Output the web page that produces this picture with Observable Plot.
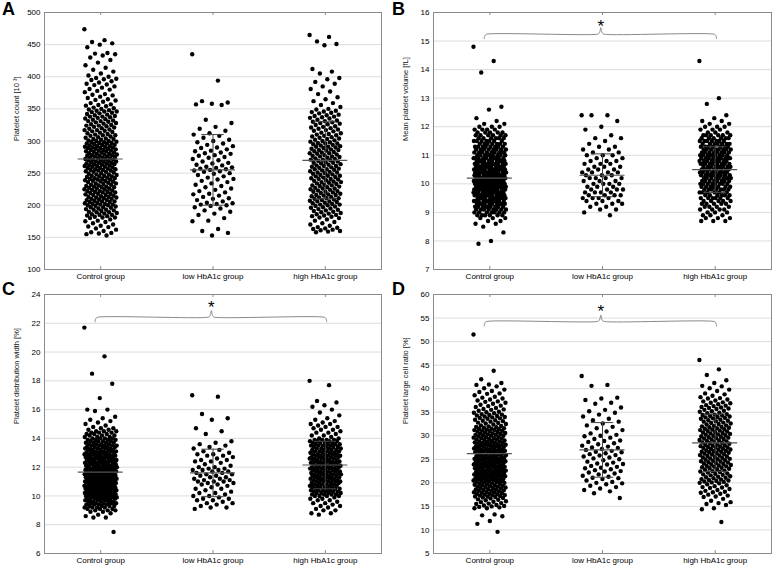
<!DOCTYPE html>
<html>
<head>
<meta charset="utf-8">
<script src="https://cdn.jsdelivr.net/npm/d3@7"></script>
<script src="https://cdn.jsdelivr.net/npm/@observablehq/plot@0.6"></script>
<style>
  html, body { margin: 0; padding: 0; background: #fff; }
  #wrap { position: relative; width: 778px; height: 568px; overflow: hidden; font-family: 'Liberation Sans', Arial, sans-serif; }
  .panel { position: absolute; width: 389px; height: 284px; }
  .letter { position: absolute; font: bold 18px/18px 'Liberation Sans', Arial, sans-serif; color: #000; }
</style>
</head>
<body>
<div id="wrap">
  <div class="panel" id="pA" style="left:0;top:0"></div>
  <div class="panel" id="pB" style="left:389px;top:0"></div>
  <div class="panel" id="pC" style="left:0;top:284px"></div>
  <div class="panel" id="pD" style="left:389px;top:284px"></div>
  <div class="letter" style="left:2px;top:0">A</div>
  <div class="letter" style="left:392px;top:0">B</div>
  <div class="letter" style="left:2px;top:280px">C</div>
  <div class="letter" style="left:392px;top:280px">D</div>
</div>
<script>
const groups = ["Control group", "low HbA1c group", "high HbA1c group"];

// ---------- Panel A: Platelet count [10^3] ----------
const A_ticks = [100,150,200,250,300,350,400,450,500];
const A_control = [474,457,454,452,450,
446,437,436,435,433,430,426,422,418,414,411,408,405,402,400,
398,397,396,395,393,391,389,388,387,385,383,381,380,378,376,373,372,371,369,367,365,364,363,361,359,357,356,355,354,352,351,350,
349,348,347,346,346,345,344,343,342,341,340,339,338,338,337,336,335,334,333,332,331,331,330,329,328,327,326,325,324,324,323,322,321,320,319,318,317,317,316,315,314,313,312,311,310,309,309,308,307,306,305,304,303,303,302,301,300,300,
299,298,298,297,297,296,296,295,294,294,293,292,292,291,291,290,290,289,289,288,288,287,286,286,285,285,284,284,283,282,282,281,280,280,279,279,278,278,277,277,276,276,275,274,274,273,273,272,272,271,271,270,270,269,268,268,267,267,266,266,265,265,264,264,263,262,262,261,261,260,260,259,258,258,257,256,256,255,255,254,254,253,252,252,251,250,
249,248,248,247,246,246,245,245,244,243,242,242,241,241,240,240,239,238,238,237,237,236,235,234,234,233,232,232,231,230,229,229,228,228,227,226,226,225,225,224,223,222,222,221,221,220,220,219,218,218,217,216,216,215,214,213,213,212,212,211,210,210,209,208,208,207,206,206,205,205,204,203,202,202,201,201,200,200,
199,198,197,197,196,195,194,193,193,192,191,190,189,189,188,187,186,185,185,184,183,182,181,181,180,178,176,175,174,172,170,168,167,166,164,162,160,158,157,156,155,153];
const A_low = [435,394,362,360,358,357,356,333,328,322,319,316,312,310,308,305,302,300,298,296,294,292,290,289,287,285,284,282,281,280,278,277,275,274,272,270,268,266,265,263,262,260,259,258,257,256,255,254,253,252,250,249,247,245,243,241,240,238,236,234,232,230,228,226,224,222,220,218,217,215,213,211,210,208,206,204,203,202,201,200,199,197,195,192,190,187,185,180,176,175,163,160,157,153];
const A_high = [465,462,455,451,449,412,408,405,398,396,392,389,385,381,377,373,368,365,362,359,356,353,350,
349,347,346,345,344,343,341,340,339,338,337,336,335,333,332,331,330,329,328,327,326,325,323,322,321,320,319,318,317,316,315,313,312,311,310,309,308,307,306,305,304,303,302,301,300,
299,298,297,296,296,295,294,293,292,291,291,290,289,288,287,286,286,285,284,283,282,281,281,280,279,278,277,276,276,275,274,273,272,271,271,270,269,268,267,266,266,265,264,263,262,261,261,260,259,258,257,256,256,255,254,253,252,251,251,250,
249,248,247,246,246,245,244,243,242,241,241,240,239,238,237,236,236,235,234,233,232,231,231,230,229,228,227,226,226,225,224,223,222,221,221,220,219,218,217,216,216,215,214,213,212,211,211,210,209,208,207,206,206,205,204,203,202,201,201,200,
199,198,197,196,195,194,193,192,191,190,189,188,187,186,185,184,183,182,181,180,178,176,174,172,170,168,166,165,164,163,162,161,160,159,158];
const A_mean = [272, 255, 270];
const A_sd = [null, 55, 60];   // control-group SD bar is not visible in the figure

// ---------- Panel B: Mean platelet volume [fL] ----------
const B_ticks = [7,8,9,10,11,12,13,14,15,16];
const B_control = [14.8,14.3,13.9,12.7,12.6,12.3,12.2,12.1,12.1,12.0,12.0,12.0,11.9,11.9,11.9,11.9,
11.8,11.8,11.8,11.8,11.8,
11.7,11.7,11.7,11.7,11.7,11.7,
11.6,11.6,11.6,11.6,11.6,11.6,
11.5,11.5,11.5,11.5,11.5,11.5,11.5,
11.4,11.4,11.4,11.4,11.4,11.4,11.4,
11.3,11.3,11.3,11.3,11.3,11.3,11.3,11.3,
11.2,11.2,11.2,11.2,11.2,11.2,11.2,11.2,
11.1,11.1,11.1,11.1,11.1,11.1,11.1,11.1,11.1,
11.0,11.0,11.0,11.0,11.0,11.0,11.0,11.0,11.0,
10.9,10.9,10.9,10.9,10.9,10.9,10.9,10.9,10.9,10.9,
10.8,10.8,10.8,10.8,10.8,10.8,10.8,10.8,10.8,10.8,
10.7,10.7,10.7,10.7,10.7,10.7,10.7,10.7,10.7,10.7,10.7,
10.6,10.6,10.6,10.6,10.6,10.6,10.6,10.6,10.6,10.6,10.6,
10.5,10.5,10.5,10.5,10.5,10.5,10.5,10.5,10.5,10.5,10.5,10.5,
10.4,10.4,10.4,10.4,10.4,10.4,10.4,10.4,10.4,10.4,10.4,10.4,
10.3,10.3,10.3,10.3,10.3,10.3,10.3,10.3,10.3,10.3,10.3,10.3,
10.2,10.2,10.2,10.2,10.2,10.2,10.2,10.2,10.2,10.2,10.2,10.2,10.2,
10.1,10.1,10.1,10.1,10.1,10.1,10.1,10.1,10.1,10.1,10.1,10.1,10.1,
10.0,10.0,10.0,10.0,10.0,10.0,10.0,10.0,10.0,10.0,10.0,10.0,10.0,
9.9,9.9,9.9,9.9,9.9,9.9,9.9,9.9,9.9,9.9,9.9,9.9,9.9,
9.8,9.8,9.8,9.8,9.8,9.8,9.8,9.8,9.8,9.8,9.8,9.8,
9.7,9.7,9.7,9.7,9.7,9.7,9.7,9.7,9.7,9.7,9.7,9.7,
9.6,9.6,9.6,9.6,9.6,9.6,9.6,9.6,9.6,9.6,9.6,9.6,
9.5,9.5,9.5,9.5,9.5,9.5,9.5,9.5,9.5,9.5,9.5,
9.4,9.4,9.4,9.4,9.4,9.4,9.4,9.4,9.4,9.4,9.4,
9.3,9.3,9.3,9.3,9.3,9.3,9.3,9.3,9.3,9.3,
9.2,9.2,9.2,9.2,9.2,9.2,9.2,9.2,9.2,
9.1,9.1,9.1,9.1,9.1,9.1,9.1,9.1,
9.0,9.0,9.0,9.0,9.0,9.0,9.0,
8.9,8.9,8.9,8.9,8.9,8.9,
8.8,8.8,8.8,8.7,8.7,8.6,8.6,8.5,8.3,8.0,7.9];
const B_low = [12.4,12.4,12.4,12.2,12.0,11.9,11.7,11.6,11.6,11.5,11.4,11.3,11.3,11.2,11.2,11.1,11.1,11.0,11.0,11.0,10.9,10.9,10.8,10.8,10.8,10.7,10.7,10.7,10.6,10.6,10.6,10.5,10.5,10.5,10.4,10.4,10.4,10.4,10.3,10.3,10.3,10.2,10.2,10.2,10.2,10.1,10.1,10.1,10.0,10.0,10.0,10.0,9.9,9.9,9.9,9.8,9.8,9.8,9.8,9.7,9.7,9.7,9.7,9.6,9.6,9.6,9.6,9.5,9.5,9.5,9.5,9.4,9.4,9.4,9.3,9.3,9.3,9.2,9.2,9.1,9.1,9.0,8.9];
const B_high = [14.3,13.0,12.8,12.4,12.3,12.2,12.2,12.1,12.1,12.0,12.0,12.0,11.9,11.9,11.9,11.8,11.8,11.8,
11.7,11.7,11.7,11.7,11.7,11.7,
11.6,11.6,11.6,11.6,11.6,11.6,
11.5,11.5,11.5,11.5,11.5,11.5,11.5,
11.4,11.4,11.4,11.4,11.4,11.4,11.4,
11.3,11.3,11.3,11.3,11.3,11.3,11.3,
11.2,11.2,11.2,11.2,11.2,11.2,11.2,11.2,
11.1,11.1,11.1,11.1,11.1,11.1,11.1,11.1,
11.0,11.0,11.0,11.0,11.0,11.0,11.0,11.0,11.0,
10.9,10.9,10.9,10.9,10.9,10.9,10.9,10.9,10.9,
10.8,10.8,10.8,10.8,10.8,10.8,10.8,10.8,10.8,
10.7,10.7,10.7,10.7,10.7,10.7,10.7,10.7,10.7,
10.6,10.6,10.6,10.6,10.6,10.6,10.6,10.6,10.6,
10.5,10.5,10.5,10.5,10.5,10.5,10.5,10.5,10.5,
10.4,10.4,10.4,10.4,10.4,10.4,10.4,10.4,10.4,
10.3,10.3,10.3,10.3,10.3,10.3,10.3,10.3,10.3,
10.2,10.2,10.2,10.2,10.2,10.2,10.2,10.2,10.2,
10.1,10.1,10.1,10.1,10.1,10.1,10.1,10.1,
10.0,10.0,10.0,10.0,10.0,10.0,10.0,10.0,
9.9,9.9,9.9,9.9,9.9,9.9,9.9,
9.8,9.8,9.8,9.8,9.8,9.8,9.8,
9.7,9.7,9.7,9.7,9.7,9.7,
9.6,9.6,9.6,9.6,9.6,9.6,
9.5,9.5,9.5,9.5,9.5,9.5,
9.4,9.4,9.4,9.4,9.4,
9.3,9.3,9.3,9.3,9.3,
9.2,9.2,9.2,9.2,
9.1,9.1,9.1,9.1,
9.0,9.0,9.0,8.9,8.9,8.9,8.8,8.8,8.8,8.7,8.7,8.7];
const B_mean = [10.2, 10.3, 10.5];
const B_sd = [null, 0.75, 0.8];

// ---------- Panel C: Platelet distribution width [%] ----------
const C_ticks = [6,8,10,12,14,16,18,20,22,24];
const C_control = [21.7,19.7,18.5,17.8,16.8,16.0,16.0,15.9,15.5,15.4,15.3,15.2,15.1,15.0,14.9,14.8,
14.7,14.7,14.6,14.6,14.5,14.5,14.5,14.4,14.4,14.4,14.3,14.3,14.3,14.2,14.2,14.2,14.1,14.1,14.1,14.0,14.0,14.0,14.0,
13.9,13.9,13.9,13.9,13.8,13.8,13.8,13.8,13.7,13.7,13.7,13.7,13.6,13.6,13.6,13.6,
13.5,13.5,13.5,13.5,13.5,13.4,13.4,13.4,13.4,13.4,13.3,13.3,13.3,13.3,13.3,13.2,13.2,13.2,13.2,13.2,13.1,13.1,13.1,13.1,13.1,13.0,13.0,13.0,13.0,13.0,13.0,
12.9,12.9,12.9,12.9,12.9,12.9,12.8,12.8,12.8,12.8,12.8,12.8,12.7,12.7,12.7,12.7,12.7,12.7,12.6,12.6,12.6,12.6,12.6,12.6,12.5,12.5,12.5,12.5,12.5,12.5,
12.4,12.4,12.4,12.4,12.4,12.4,12.3,12.3,12.3,12.3,12.3,12.3,12.2,12.2,12.2,12.2,12.2,12.2,12.1,12.1,12.1,12.1,12.1,12.1,12.0,12.0,12.0,12.0,12.0,12.0,
11.9,11.9,11.9,11.9,11.9,11.9,11.9,11.8,11.8,11.8,11.8,11.8,11.8,11.8,11.7,11.7,11.7,11.7,11.7,11.7,11.7,11.6,11.6,11.6,11.6,11.6,11.6,11.6,11.5,11.5,11.5,11.5,11.5,11.5,11.5,
11.4,11.4,11.4,11.4,11.4,11.4,11.4,11.3,11.3,11.3,11.3,11.3,11.3,11.3,11.2,11.2,11.2,11.2,11.2,11.2,11.2,11.1,11.1,11.1,11.1,11.1,11.1,11.1,11.0,11.0,11.0,11.0,11.0,11.0,11.0,
10.9,10.9,10.9,10.9,10.9,10.9,10.9,10.8,10.8,10.8,10.8,10.8,10.8,10.8,10.7,10.7,10.7,10.7,10.7,10.7,10.7,10.6,10.6,10.6,10.6,10.6,10.6,10.6,10.5,10.5,10.5,10.5,10.5,10.5,10.5,
10.4,10.4,10.4,10.4,10.4,10.4,10.4,10.3,10.3,10.3,10.3,10.3,10.3,10.3,10.2,10.2,10.2,10.2,10.2,10.2,10.2,10.1,10.1,10.1,10.1,10.1,10.1,10.1,10.0,10.0,10.0,10.0,10.0,10.0,10.0,
9.9,9.9,9.9,9.9,9.9,9.9,9.8,9.8,9.8,9.8,9.8,9.8,9.7,9.7,9.7,9.7,9.7,9.6,9.6,9.6,9.6,9.6,9.5,9.5,9.5,9.5,9.5,
9.4,9.4,9.4,9.4,9.3,9.3,9.3,9.3,9.2,9.2,9.2,9.2,9.1,9.1,9.1,9.0,9.0,9.0,
8.9,8.9,8.8,8.7,8.6,8.5,8.5,7.5];
const C_low = [17.0,16.9,15.7,15.4,15.3,14.7,14.5,14.3,13.8,13.7,13.6,13.5,13.4,13.3,13.2,13.1,13.0,12.9,12.9,12.8,12.8,12.7,12.6,12.5,12.5,12.4,12.4,12.3,12.2,12.1,12.0,12.0,11.9,11.9,11.8,11.8,11.8,11.7,11.7,11.6,11.6,11.5,11.5,11.4,11.4,11.3,11.3,11.2,11.2,11.1,11.1,11.0,11.0,11.0,10.9,10.9,10.8,10.8,10.7,10.6,10.5,10.5,10.4,10.3,10.2,10.2,10.1,10.0,10.0,9.9,9.8,9.8,9.7,9.7,9.6,9.5,9.5,9.4,9.3,9.2,9.2,9.1];
const C_high = [18.0,17.7,16.6,16.5,16.3,16.2,16.0,15.8,15.6,15.4,15.3,15.2,15.1,15.0,15.0,14.9,14.8,14.8,14.7,14.6,14.6,14.5,14.4,14.4,14.3,14.2,14.2,14.1,14.0,14.0,
13.9,13.9,13.9,13.9,13.8,13.8,13.8,13.8,13.7,13.7,13.7,13.7,13.6,13.6,13.6,13.6,13.5,13.5,13.5,13.5,
13.4,13.4,13.4,13.4,13.3,13.3,13.3,13.3,13.2,13.2,13.2,13.2,13.1,13.1,13.1,13.1,13.0,13.0,13.0,13.0,
12.9,12.9,12.9,12.9,12.9,12.8,12.8,12.8,12.8,12.8,12.7,12.7,12.7,12.7,12.7,12.6,12.6,12.6,12.6,12.6,12.5,12.5,12.5,12.5,12.5,
12.4,12.4,12.4,12.4,12.4,12.3,12.3,12.3,12.3,12.3,12.2,12.2,12.2,12.2,12.2,12.1,12.1,12.1,12.1,12.1,12.0,12.0,12.0,12.0,12.0,
11.9,11.9,11.9,11.9,11.9,11.8,11.8,11.8,11.8,11.8,11.7,11.7,11.7,11.7,11.7,11.6,11.6,11.6,11.6,11.6,11.5,11.5,11.5,11.5,11.5,
11.4,11.4,11.4,11.4,11.4,11.3,11.3,11.3,11.3,11.3,11.2,11.2,11.2,11.2,11.2,11.1,11.1,11.1,11.1,11.1,11.0,11.0,11.0,11.0,11.0,
10.9,10.9,10.9,10.9,10.8,10.8,10.8,10.8,10.7,10.7,10.7,10.7,10.6,10.6,10.6,10.6,10.5,10.5,10.5,10.5,
10.4,10.4,10.4,10.4,10.3,10.3,10.3,10.3,10.2,10.2,10.2,10.2,10.1,10.1,10.1,10.1,10.0,10.0,10.0,10.0,
9.9,9.8,9.8,9.7,9.7,9.6,9.5,9.5,9.4,9.3,9.3,9.2,9.1,9.0,9.0,8.8,8.8,8.7];
const C_mean = [11.65, 11.6, 12.15];
const C_sd = [null, 1.65, 1.65];

// ---------- Panel D: Platelet large cell ratio [%] ----------
const D_ticks = [5,10,15,20,25,30,35,40,45,50,55,60];
const D_control = [51.5,43.8,42.0,41.2,40.9,40.8,40.5,40.1,39.8,39.5,39.3,39.0,38.9,38.6,38.3,38.1,
37.9,37.7,37.5,37.3,37.2,37.0,36.8,36.6,36.4,36.3,36.1,35.9,35.7,35.6,35.5,35.3,35.1,35.0,
34.9,34.8,34.6,34.5,34.4,34.3,34.2,34.1,34.0,33.9,33.8,33.7,33.6,33.4,33.3,33.2,33.1,33.0,32.8,32.7,32.6,32.5,32.4,32.2,32.1,32.0,
31.9,31.8,31.7,31.6,31.5,31.5,31.4,31.3,31.2,31.2,31.1,31.0,31.0,30.9,30.8,30.7,30.6,30.5,30.5,30.4,30.3,30.2,30.2,30.1,30.0,30.0,29.9,29.8,29.7,29.6,29.5,29.5,29.4,29.3,29.2,29.2,29.1,29.0,
28.9,28.8,28.8,28.7,28.6,28.6,28.5,28.5,28.4,28.3,28.2,28.2,28.1,28.0,28.0,27.9,27.9,27.8,27.8,27.7,27.6,27.6,27.5,27.4,27.3,27.3,27.2,27.1,27.1,27.0,27.0,26.9,26.9,26.8,26.7,26.7,26.6,26.5,26.5,26.4,26.4,26.3,26.2,26.1,26.1,26.0,
25.9,25.8,25.8,25.7,25.6,25.6,25.5,25.5,25.4,25.4,25.3,25.2,25.2,25.1,25.0,25.0,24.9,24.9,24.8,24.8,24.7,24.6,24.6,24.5,24.5,24.4,24.4,24.3,24.2,24.2,24.1,24.0,24.0,23.9,23.9,23.8,23.8,23.7,23.6,23.6,23.5,23.5,23.4,23.4,23.3,23.2,23.2,23.1,23.0,23.0,
22.9,22.8,22.8,22.7,22.6,22.6,22.5,22.5,22.4,22.4,22.3,22.2,22.2,22.1,22.0,22.0,21.9,21.9,21.8,21.8,21.7,21.6,21.6,21.5,21.5,21.4,21.4,21.3,21.2,21.2,21.1,21.0,21.0,20.9,20.8,20.8,20.7,20.6,20.6,20.5,20.5,20.4,20.4,20.3,20.2,20.2,20.1,20.0,
19.9,19.8,19.8,19.7,19.6,19.5,19.5,19.4,19.3,19.2,19.2,19.1,19.0,18.9,18.9,18.8,18.7,18.6,18.6,18.5,18.4,18.3,18.3,18.2,18.1,18.0,18.0,17.9,17.8,17.7,17.7,17.6,17.5,17.4,17.4,17.3,17.2,17.1,17.1,17.0,
16.9,16.8,16.7,16.5,16.4,16.3,16.1,16.0,15.9,15.7,15.6,15.5,15.3,15.2,15.1,15.0,14.9,14.8,14.6,14.6,
13.3,13.1,12.9,11.9,11.3,9.6];
const D_low = [42.7,40.8,40.6,38.1,37.9,37.6,37.0,36.8,36.0,35.5,35.2,34.9,34.5,34.1,33.6,33.3,33.0,32.6,32.2,31.9,31.6,31.2,30.9,30.5,30.2,30.0,29.9,29.6,29.3,29.0,28.9,28.7,28.4,28.2,27.9,27.7,27.5,27.4,27.2,27.0,26.8,26.6,26.5,26.3,26.1,25.9,25.8,25.6,25.4,25.2,25.0,24.8,24.5,24.3,24.1,24.0,23.9,23.6,23.4,23.2,23.1,22.9,22.7,22.5,22.4,22.2,22.0,21.8,21.5,21.3,21.1,21.0,20.8,20.5,20.2,20.0,19.9,19.7,19.4,19.1,18.8,18.5,18.2,17.8,16.8];
const D_high = [46.1,44.1,42.9,41.8,41.2,40.6,40.5,40.1,39.8,39.5,39.0,38.8,38.5,38.2,38.0,
37.9,37.7,37.5,37.3,37.1,37.0,36.9,36.7,36.5,36.4,36.3,36.1,36.0,35.9,35.8,35.7,35.5,35.3,35.2,35.1,
34.9,34.8,34.6,34.5,34.4,34.3,34.2,34.1,34.0,33.9,33.8,33.7,33.6,33.4,33.3,33.2,33.1,33.0,32.8,32.7,32.6,32.5,32.4,32.2,32.1,32.0,
31.9,31.8,31.7,31.6,31.5,31.4,31.3,31.2,31.1,31.0,30.9,30.8,30.7,30.6,30.5,30.4,30.3,30.2,30.1,30.0,29.9,29.8,29.7,29.6,29.5,29.4,29.3,29.2,29.1,29.0,
28.9,28.8,28.7,28.6,28.5,28.4,28.3,28.2,28.1,28.0,27.9,27.8,27.7,27.6,27.5,27.5,27.4,27.3,27.2,27.1,27.0,26.9,26.8,26.7,26.6,26.6,26.5,26.4,26.3,26.2,26.1,26.0,
25.9,25.8,25.7,25.6,25.5,25.4,25.3,25.2,25.1,25.0,24.9,24.8,24.7,24.6,24.5,24.4,24.3,24.2,24.1,24.0,23.9,23.8,23.7,23.6,23.5,23.4,23.3,23.2,23.1,23.0,
22.9,22.8,22.6,22.5,22.4,22.3,22.2,22.0,21.9,21.8,21.7,21.6,21.4,21.3,21.2,21.1,21.0,20.8,20.7,20.6,20.5,20.4,20.3,20.2,20.1,20.0,
19.9,19.7,19.5,19.3,19.1,19.0,18.9,18.7,18.5,18.3,18.1,18.0,17.9,17.7,17.5,17.3,17.1,17.0,
16.6,16.2,15.9,15.7,15.5,15.3,14.6,14.4,11.7];
const D_mean = [26.2, 27.0, 28.5];
const D_sd = [null, 5.8, 6.1];

// Significance annotations (value levels on each panel's y scale)
const braceLevel = { B: 15.24, C: 22.42, D: 54.27 };
const starLevel  = { B: 15.31, C: 22.71, D: 55.12 };

// ---------- drawing ----------
const FONT = "'Liberation Sans', Arial, Helvetica, sans-serif";
const jitterHalfWidth = [0.145, 0.185, 0.14];
const golden = 0.6180339887498949;

function panel(el, cfg) {
  const { lo, hi, ticks, title, series, mean, sd, brace, star, top, left } = cfg;
  const W = 389, H = 284;
  const mT = top ? 12 : 10, mB = 15, mL = 44, mR = left ? 8 : 7;
  const k = (hi - lo) / (H - mT - mB); // data units per pixel
  const pts = [];
  series.forEach((arr, g) => arr.forEach((v, i) => {
    const u = ((i * golden) % 1) * 2 - 1;
    pts.push({ g, v, x: g + u * jitterHalfWidth[g] });
  }));
  const stats = [0, 1, 2].map(g => ({ g, m: mean[g], s: sd[g] }));
  const sdStats = stats.filter(d => d.s != null);
  const marks = [
    Plot.gridY({ ticks, stroke: "#dcdcdc", strokeOpacity: 1 }),
    Plot.frame({ stroke: "#8a8a8a" }),
    Plot.ruleX([0, 1, 2], { x: d => d, y1: lo, y2: lo + 3 * k, stroke: "#8a8a8a" }),
    Plot.ruleX([0, 1, 2], { x: d => d, y1: hi, y2: hi - 3 * k, stroke: "#8a8a8a" }),
    Plot.axisY({ ticks, tickSize: 0, tickPadding: 4, label: null, fontSize: 8 }),
    Plot.axisX({ ticks: [0, 1, 2], tickFormat: i => groups[i], tickSize: 0, tickPadding: 4, label: null, fontSize: 8 }),
    Plot.text([title], { frameAnchor: "left", dx: -28, rotate: -90, fontSize: 7.5, fill: "#111" }),
    Plot.dot(pts, { x: "x", y: "v", r: 2.2, fill: "#000" }),
    Plot.ruleX(sdStats, { x: "g", y1: d => d.m - d.s, y2: d => d.m + d.s, stroke: "#444" }),
    Plot.ruleY(sdStats, { y: d => d.m + d.s, x1: d => d.g - 0.1, x2: d => d.g + 0.1, stroke: "#444" }),
    Plot.ruleY(sdStats, { y: d => d.m - d.s, x1: d => d.g - 0.1, x2: d => d.g + 0.1, stroke: "#444" }),
    Plot.ruleY(stats, { y: "m", x1: d => d.g - 0.2, x2: d => d.g + 0.2, stroke: "#555", strokeWidth: 1.2 })
  ];
  if (brace != null) {
    // brace shape: [x in group units, pixel offset upward]
    const shape = [[-0.05,-4.5],[-0.047,-2.4],[-0.04,-0.8],[-0.028,0],[0.955,0],[0.968,0.7],[0.977,2.6],[0.985,6.5],[0.993,2.6],[1.002,0.7],[1.015,0],[1.99,0],[2.002,-0.8],[2.009,-2.4],[2.012,-4.5]];
    marks.push(Plot.line(shape, { x: d => d[0], y: d => brace + d[1] * k, stroke: "#8a8a8a", strokeWidth: 1, curve: "catmull-rom" }));
    marks.push(Plot.text(["*"], { x: 0.985, y: star, lineAnchor: "bottom", fontSize: 17, fill: "#000" }));
  }
  const chart = Plot.plot({
    width: W, height: H,
    marginTop: mT, marginBottom: mB, marginLeft: mL, marginRight: mR,
    x: { domain: [-0.5, 2.5] },
    y: { domain: [lo, hi] },
    style: { fontFamily: FONT, fontSize: "8px", background: "#fff", color: "#000", overflow: "visible" },
    marks
  });
  document.getElementById(el).appendChild(chart);
}

panel("pA", { lo: 100, hi: 500, ticks: A_ticks, title: "Platelet count [10 \u00B3]", series: [A_control, A_low, A_high], mean: A_mean, sd: A_sd, brace: null, star: null, top: true, left: true });
panel("pB", { lo: 7, hi: 16, ticks: B_ticks, title: "Mean platelet volume [fL]", series: [B_control, B_low, B_high], mean: B_mean, sd: B_sd, brace: braceLevel.B, star: starLevel.B, top: true, left: false });
panel("pC", { lo: 6, hi: 24, ticks: C_ticks, title: "Platelet distribution width [%]", series: [C_control, C_low, C_high], mean: C_mean, sd: C_sd, brace: braceLevel.C, star: starLevel.C, top: false, left: true });
panel("pD", { lo: 5, hi: 60, ticks: D_ticks, title: "Platelet large cell ratio [%]", series: [D_control, D_low, D_high], mean: D_mean, sd: D_sd, brace: braceLevel.D, star: starLevel.D, top: false, left: false });
</script>
</body>
</html>
